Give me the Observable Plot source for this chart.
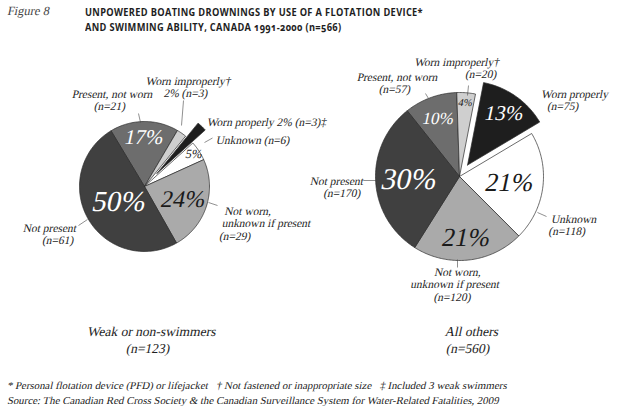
<!DOCTYPE html>
<html><head><meta charset="utf-8">
<script src="https://cdn.jsdelivr.net/npm/d3@7"></script>
<script src="https://cdn.jsdelivr.net/npm/@observablehq/plot@0.6"></script>
<style>
body{margin:0;background:#fff;}
#wrap{position:relative;width:618px;height:411px;overflow:hidden;font-family:"Liberation Serif",serif;}
.it{display:inline-block;transform:skewX(-12deg);transform-origin:50% 70%;}
#fig{position:absolute;left:7px;top:4px;font-size:12.5px;line-height:15px;color:#444;white-space:nowrap;}
#title{position:absolute;left:85px;top:4px;font-family:"Open Sans",sans-serif;font-weight:700;font-size:11px;line-height:15px;color:#1e1e1e;letter-spacing:0.4px;white-space:nowrap;transform-origin:0 0;font-variant-numeric:oldstyle-nums;}
#title span{display:inline-block;}
#chart{position:absolute;left:0;top:40px;}
#notes{position:absolute;left:7px;top:378px;font-size:10.5px;line-height:15px;color:#222;white-space:nowrap;transform-origin:0 0;}
</style></head>
<body><div id="wrap">
<div id="fig"><span class="it">Figure 8</span></div>
<div id="title"><span id="t1">UNPOWERED BOATING DROWNINGS BY USE OF A FLOTATION DEVICE*</span><br><span id="t2">AND SWIMMING ABILITY, CANADA 1991-2000 (n=566)</span></div>
<div id="chart"></div>
<div id="notes"><span class="it" id="n1">* Personal flotation device (PFD) or lifejacket &nbsp;&nbsp;† Not fastened or inappropriate size &nbsp;&nbsp;‡ Included 3 weak swimmers</span><br><span class="it" id="n2">Source: The Canadian Red Cross Society &amp; the Canadian Surveillance System for Water-Related Fatalities, 2009</span></div>
</div>
<script>
// ---- data ----
const categories = ["Present, not worn", "Worn improperly", "Worn properly", "Unknown", "Not worn,\nunknown if present", "Not present"];
const weakCounts = [21, 3, 3, 6, 29, 61];
const otherCounts = [57, 20, 75, 118, 120, 170];
const groupNames = ["Weak or non-swimmers", "All others"];

// ---- styles / layout ----
const SERIF = "Liberation Serif";
const sliceColors = ["#6d6d6d", "#cfcfcf", "#1e1e1e", "#ffffff", "#aaaaaa", "#404040"];
const pctColors = ["#ffffff", "#1a1a1a", "#ffffff", "#1a1a1a", "#1a1a1a", "#ffffff"];
const TOP = 40, W = 618, H = 325;
const pies = [
  {cx: 144, cy: 186, r: 65, start: -31, explode: [0, 0, 18, 0, 0, 0],
   pctR: [0.75, null, null, 0.91, 0.63, 0.45], pctSize: [21, 0, 0, 12.5, 24, 29],
   text: [[-33, -86.7, "middle"], [43, -99.7, "middle"], [63, -64.7, "start"], [72, -46.7, "start"], [78, 37, "start"], [-69, 47.8, "end"]],
   leader: [[-4, -64, -6, -73], [37, -61, 39, -86], null, [60, -44, 68, -48.5], [64, 16, 73, 19], [-57, 33, -66, 39]],
   group: [6, 152.5]},
  {cx: 459, cy: 176, r: 84, start: -38.5, explode: [0, 0, 14, 0, 0, 0],
   pctR: [0.73, 0.88, 0.76, 0.6, 0.73, 0.6], pctSize: [17, 10.5, 21, 26, 26, 30],
   text: [[-63, -93.2, "middle"], [39, -108.7, "end"], [81, -76.7, "start"], [91, 48.8, "start"], [-4, 107.8, "middle"], [-97, 10.3, "end"]],
   leader: [[-31, -78, -34, -83], [8, -81, 9, -91], null, [78, 36, 87, 40], [-2, 83, -2, 91], [-83, 4, -96, 4]],
   group: [11, 162.5]}
];

function labelText(pieIdx, i, c, pct) {
  const name = categories[i];
  if (i === 1) return pieIdx === 0 ? `${name}†\n${pct}% (n=${c})` : `${name}†\n(n=${c})`;
  if (i === 2) return pieIdx === 0 ? `${name} ${pct}% (n=${c})‡` : `${name}\n\u00a0\u00a0\u00a0(n=${c})`;
  if (i === 3 && pieIdx === 0) return `${name} (n=${c})`;
  return `${name}\n(n=${c})`;
}

const marks = [];
const pctLabels = [], extLabels = [], leaders = [], groupLabels = [];
const rad = Math.PI / 180;

[weakCounts, otherCounts].forEach((counts, p) => {
  const L = pies[p];
  const total = d3.sum(counts);
  const arcs = d3.pie().sort(null).value(d => d)
    .startAngle(L.start * rad).endAngle(L.start * rad + 2 * Math.PI)(counts);
  arcs.forEach((a, i) => {
    const mid = (a.startAngle + a.endAngle) / 2;
    const e = L.explode[i];
    const ox = L.cx + e * Math.sin(mid), oy = L.cy - e * Math.cos(mid);
    const n = Math.max(2, Math.ceil((a.endAngle - a.startAngle) / rad));
    const pts = [{x: ox, y: oy}];
    for (let k = 0; k <= n; k++) {
      const t = a.startAngle + (a.endAngle - a.startAngle) * k / n;
      pts.push({x: ox + L.r * Math.sin(t), y: oy - L.r * Math.cos(t)});
    }
    pts.push({x: ox, y: oy});
    marks.push(Plot.line(pts, {x: "x", y: "y", fill: sliceColors[i], stroke: "#2b2b2b", strokeWidth: 0.7, strokeLinejoin: "round"}));
    const pct = Math.round(a.data / total * 100);
    if (L.pctR[i] != null) {
      pctLabels.push({x: ox + L.pctR[i] * L.r * Math.sin(mid), y: oy - L.pctR[i] * L.r * Math.cos(mid),
        text: `${pct}%`, fill: pctColors[i], size: L.pctSize[i]});
    }
    const tp = L.text[i];
    extLabels.push({x: L.cx + tp[0], y: L.cy + tp[1], anchor: tp[2], text: labelText(p, i, a.data, pct)});
    const ld = L.leader[i];
    if (ld) leaders.push({x1: L.cx + ld[0], y1: L.cy + ld[1], x2: L.cx + ld[2], y2: L.cy + ld[3]});
  });
  groupLabels.push({x: L.cx + L.group[0], y: L.cy + L.group[1], text: `${groupNames[p]}\n(n=${total})`});
});

marks.push(Plot.link(leaders, {x1: "x1", y1: "y1", x2: "x2", y2: "y2", stroke: "#444", strokeWidth: 0.6}));
marks.push(Plot.text(pctLabels, {x: "x", y: "y", text: "text", fill: "fill", fontSize: "size", fontFamily: SERIF}));
for (const anchor of ["start", "middle", "end"]) {
  marks.push(Plot.text(extLabels.filter(d => d.anchor === anchor), {x: "x", y: "y", text: "text", textAnchor: anchor,
    fill: "#1e1e1e", fontSize: 11.5, lineHeight: 1.08, fontFamily: SERIF}));
}
marks.push(Plot.text(groupLabels, {x: "x", y: "y", text: "text", fill: "#1e1e1e", fontSize: 13.5, lineHeight: 1.3, fontFamily: SERIF}));

const chart = Plot.plot({
  width: W, height: H, margin: 0,
  x: {domain: [0, W], range: [0, W], axis: null},
  y: {domain: [TOP, TOP + H], range: [0, H], axis: null},
  color: {type: "identity"},
  style: {background: "transparent", fontFamily: SERIF},
  marks
});
// italic look: the installed Liberation Serif has no italic face, so slant the roman
chart.querySelectorAll("text").forEach(t => {
  const tr = t.getAttribute("transform");
  if (tr && tr.includes("translate")) t.setAttribute("transform", tr + " skewX(-12)");
});
document.getElementById("chart").appendChild(chart);

function fit() {
  const t1 = document.getElementById("t1");
  const title = document.getElementById("title");
  title.style.transform = "none";
  const w = t1.getBoundingClientRect().width;
  title.style.transform = `scaleX(${338 / w})`;
  const n2 = document.getElementById("n2");
  const notes = document.getElementById("notes");
  notes.style.transform = "none";
  const w2 = n2.getBoundingClientRect().width;
  notes.style.transform = `scaleX(${495 / w2})`;
}
fit();
if (document.fonts) document.fonts.ready.then(fit);
</script>
</body></html>
